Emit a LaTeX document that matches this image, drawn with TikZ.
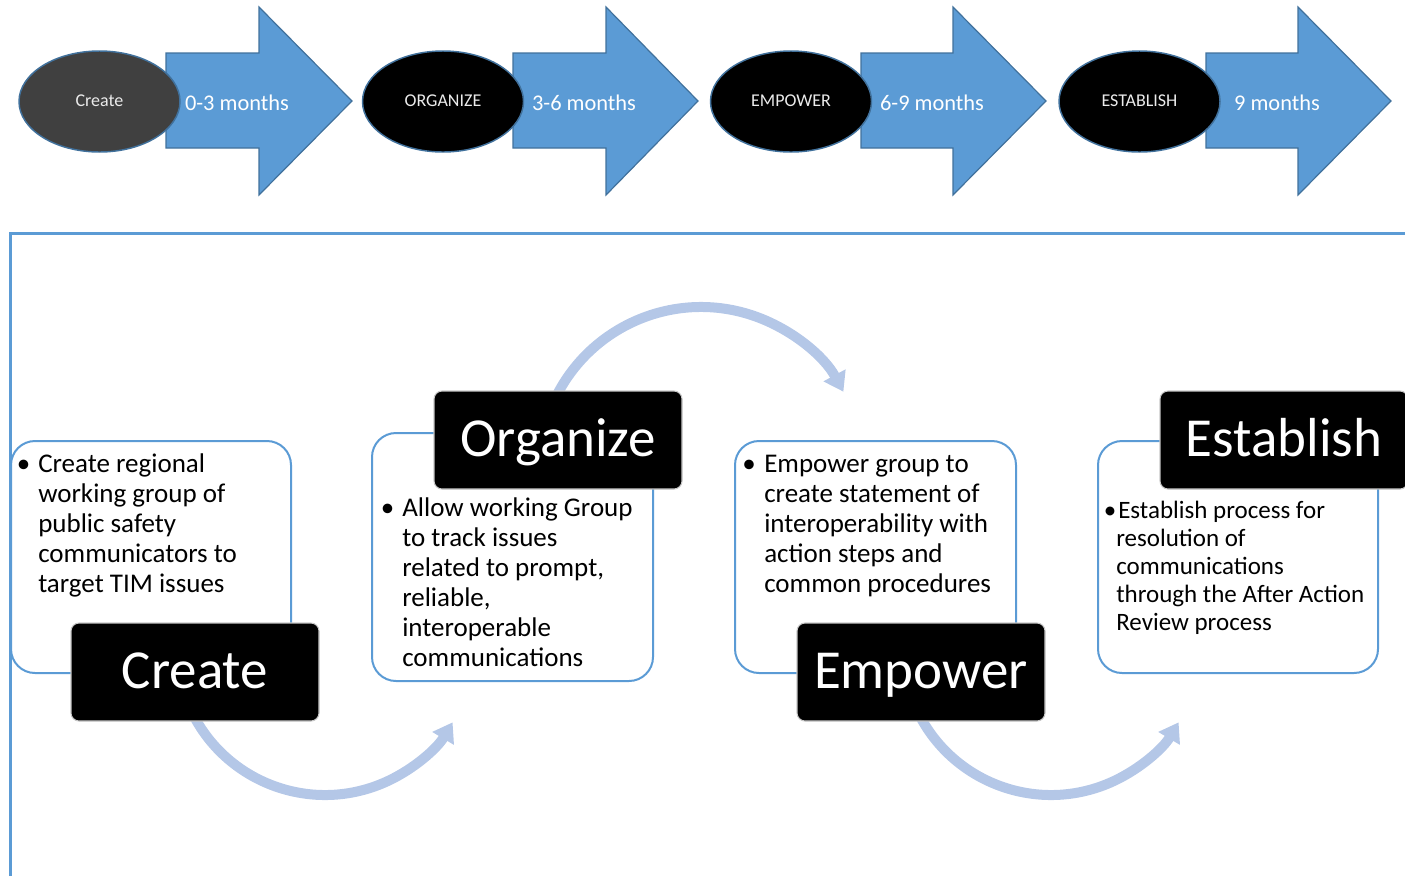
\documentclass[tikz,border=0pt]{standalone}
\usepackage{fontspec}
\setmainfont{Carlito}
\usetikzlibrary{arrows.meta,shapes.geometric}
\definecolor{ablue}{HTML}{5B9BD5}
\definecolor{aedge}{HTML}{41719C}
\definecolor{dgray}{HTML}{404040}
\definecolor{curvec}{HTML}{B4C7E7}
\definecolor{lborder}{HTML}{C8C8C8}
\begin{document}
\begin{tikzpicture}[x=0.75pt,y=0.75pt,
  phase/.style={ellipse, draw=aedge, line width=1.1pt, inner sep=0, minimum width=120.75pt, minimum height=75.75pt, text=white!92!black, font=\fontsize{13.5}{16}\selectfont, text height=10pt, text depth=1.8pt},
  arrowshape/.style={fill=ablue, draw=aedge, line width=0.9pt, line join=miter},
  months/.style={text=white, font=\fontsize{16.8}{20}\selectfont, anchor=base, inner sep=0},
  tbox/.style={draw=ablue, line width=1.5pt, fill=white, rounded corners=18pt, anchor=north west, inner sep=0},
  lbox/.style={fill=black, draw=lborder, line width=0.8pt, rounded corners=6pt, text=white, font=\fontsize{41.25}{48}\selectfont, minimum width=186pt, minimum height=73.5pt, text height=30pt, text depth=6pt, inner sep=0},
  btext/.style={anchor=base west, inner sep=0, font=\fontsize{20.25}{22.5}\selectfont},
  btextsmall/.style={anchor=base west, inner sep=0, font=\fontsize{18.75}{21}\selectfont},
  bulletmark/.style={anchor=base, inner sep=0, font=\fontsize{20.25}{22.5}\selectfont},
  curvearrow/.style={draw=curvec, line width=7.5pt, -{Triangle[width=18pt,length=14pt]}},
  frameline/.style={draw=ablue, line width=2.25pt}
]
\useasboundingbox (0,0) rectangle (1405,-876);

% ---- top timeline ----
\foreach \n/\ex/\bl/\hx/\tx/\lab/\mon/\fc in {1/99.5/166/259/352/Create/0-3 months/dgray, 2/443/513/606/698/ORGANIZE/3-6 months/black, 3/791/861/953/1046/EMPOWER/6-9 months/black, 4/1139.5/1206/1298/1391/ESTABLISH/9 months/black}{
  \draw[arrowshape] (\bl,-53) -- (\hx,-53) -- (\hx,-7) -- (\tx,-101) -- (\hx,-195) -- (\hx,-148) -- (\bl,-148) -- cycle;
  \node[phase, fill=\fc] (ph\n) at (\ex,-101.5) {\lab};
  \node[months] (mo\n) at (\bl+71,-110) {\mon};
}

% ---- frame ----
\draw[frameline] (10,-876) -- (10,-233) -- (1405,-233);

% ---- curved arrows ----
\coordinate (c1s) at (190.5,-709.3);
\coordinate (c2s) at (548.8,-413.6);
\coordinate (c3s) at (916.5,-709.3);
\draw[curvearrow] (c1s) arc[start angle=205, end angle=329.3, radius=148.4];
\draw[curvearrow] (c2s) arc[start angle=160, end angle=28.5, radius=162];
\draw[curvearrow] (c3s) arc[start angle=205, end angle=329.3, radius=148.4];

% ---- text boxes ----
\node[tbox, minimum width=210pt, minimum height=174pt] (tb1) at (10,-440) {};
\node[tbox, minimum width=210.75pt, minimum height=186pt] (tb2) at (371,-432) {};
\node[tbox, minimum width=210.75pt, minimum height=174pt] (tb3) at (734,-440) {};
\node[tbox, minimum width=210pt, minimum height=174pt] (tb4) at (1097,-440) {};

\node[bulletmark] (bu1) at (23.5,-472) {•};
\node[btext] (tx1) at (38,-472) {\begin{tabular}[t]{@{}l@{}}Create regional\\working group of\\public safety\\communicators to\\target TIM issues\end{tabular}};

\node[bulletmark] (bu2) at (387.5,-516) {•};
\node[btext] (tx2) at (402,-516) {\begin{tabular}[t]{@{}l@{}}Allow working Group\\to track issues\\related to prompt,\\reliable,\\interoperable\\communications\end{tabular}};

\node[bulletmark] (bu3) at (749,-472) {•};
\node[btext] (tx3) at (764,-472) {\begin{tabular}[t]{@{}l@{}}Empower group to\\create statement of\\interoperability with\\action steps and\\common procedures\end{tabular}};

\node[btextsmall] (tx4) at (1116,-518) {\begin{tabular}[t]{@{}l@{}}\llap{•}\hspace{1.5pt}Establish process for\\resolution of\\communications\\through the After Action\\Review process\end{tabular}};

% ---- label boxes ----
\node[lbox] (lb1) at (195,-672) {Create};
\node[lbox] (lb2) at (558,-440) {Organize};
\node[lbox] (lb3) at (921,-672) {Empower};
\node[lbox] (lb4) at (1284,-440) {Establish};
\end{tikzpicture}
\end{document}
